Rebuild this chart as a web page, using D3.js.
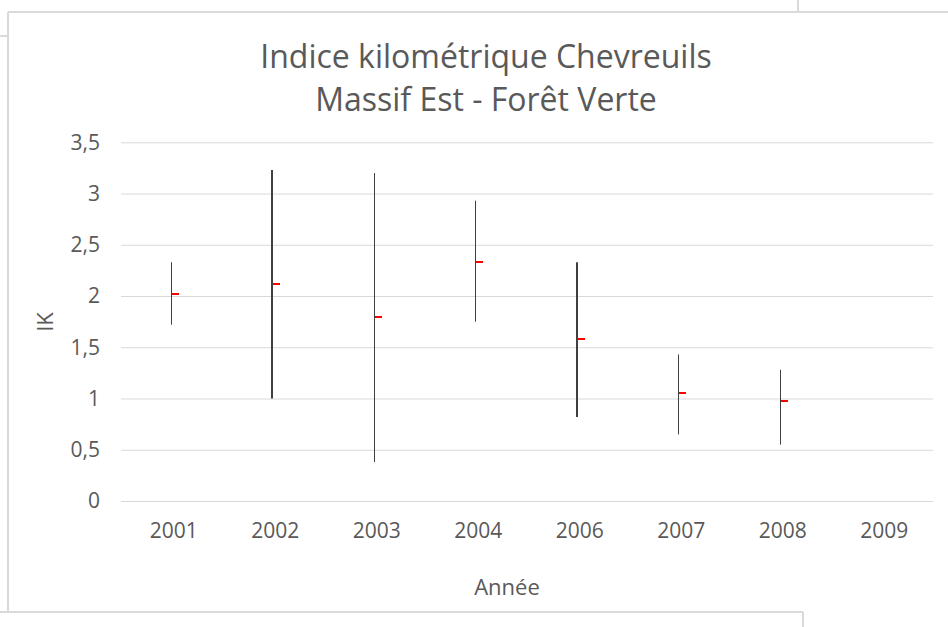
<!DOCTYPE html>
<html>
<head>
<meta charset="utf-8">
<script src="https://cdn.jsdelivr.net/npm/d3@7"></script>
<style>
  body { margin: 0; background: #fff; }
  svg { display: block; font-family: "Open Sans", sans-serif; }
</style>
</head>
<body>
<div id="chart"></div>
<script>
// IK per year: high / low of the range, and the mean
const years = ["2001", "2002", "2003", "2004", "2006", "2007", "2008", "2009"];
const highs = [2.33, 3.23, 3.20, 2.93, 2.33, 1.43, 1.28, null];
const lows = [1.72, 1.00, 0.38, 1.75, 0.82, 0.65, 0.55, null];
const means = [2.02, 2.12, 1.80, 2.33, 1.58, 1.05, 0.98, null];
const yTicks = [0, 0.5, 1, 1.5, 2, 2.5, 3, 3.5];

// stroke widths of the range lines, as they come out in the picture
const lineWidths = [1, 2, 1, 1, 2, 1, 1, 1];

const width = 948;
const height = 627;

const svg = d3.select("#chart").append("svg")
    .attr("width", width)
    .attr("height", height);

// frame lines left over from the spreadsheet
const frame = [
    [8, 12, 948, 12], [8, 12, 8, 612], [0, 36, 8, 36],
    [798, 0, 798, 12], [0, 612, 803, 612], [803, 612, 803, 627]
];
svg.selectAll("line.frame").data(frame).join("line")
    .attr("class", "frame")
    .attr("x1", d => d[0]).attr("y1", d => d[1])
    .attr("x2", d => d[2]).attr("y2", d => d[3])
    .attr("stroke", "#d9d9d9")
    .attr("stroke-width", 2);

const xScale = d3.scaleBand()
    .domain(years)
    .range([121, 933]);

const yScale = d3.scaleLinear()
    .domain([0, 3.5])
    .range([501, 142.3]);

const fmt = d => String(d).replace(".", ",");

// grid lines + y labels
const yAxis = d3.axisLeft(yScale).tickValues(yTicks).tickFormat(fmt).tickSize(-(933 - 121)).tickPadding(21);
const gy = svg.append("g").attr("transform", "translate(121,0)").call(yAxis);
gy.select(".domain").remove();
gy.selectAll(".tick line").attr("stroke", "#d9d9d9").attr("stroke-width", 1);
gy.selectAll(".tick text")
    .attr("fill", "#595959")
    .style("font-size", "21px")
    .style("font-family", "'Open Sans', sans-serif");

// x labels
const xAxis = d3.axisBottom(xScale).tickSize(0).tickPadding(22);
const gx = svg.append("g").attr("transform", "translate(2,501)").call(xAxis);
gx.select(".domain").remove();
gx.selectAll(".tick text")
    .attr("fill", "#595959")
    .style("font-size", "21px")
    .style("font-family", "'Open Sans', sans-serif");

// ranges
const idx = years.map((y, i) => i).filter(i => highs[i] != null);
const cx = i => Math.round(xScale(years[i]) + xScale.bandwidth() / 2) - 1 + (lineWidths[i] === 1 ? 0.5 : 0);

svg.selectAll("line.range").data(idx).join("line")
    .attr("class", "range")
    .attr("x1", cx)
    .attr("x2", cx)
    .attr("y1", i => yScale(highs[i]))
    .attr("y2", i => yScale(lows[i]))
    .attr("stroke", "#404040")
    .attr("stroke-width", i => lineWidths[i]);

svg.selectAll("rect.mean").data(idx).join("rect")
    .attr("class", "mean")
    .attr("x", i => Math.round(xScale(years[i]) + xScale.bandwidth() / 2))
    .attr("y", i => Math.round(yScale(means[i]) - 1))
    .attr("width", 7)
    .attr("height", 2)
    .attr("fill", "#ff0000");

// titles
svg.append("text")
    .attr("x", 486).attr("y", 68)
    .attr("text-anchor", "middle")
    .attr("fill", "#595959")
    .style("font-size", "32px")
    .text("Indice kilométrique Chevreuils");

svg.append("text")
    .attr("x", 486).attr("y", 111)
    .attr("text-anchor", "middle")
    .attr("fill", "#595959")
    .style("font-size", "32px")
    .text("Massif Est - Forêt Verte");

svg.append("text")
    .attr("x", 507).attr("y", 595)
    .attr("text-anchor", "middle")
    .attr("fill", "#595959")
    .style("font-size", "22px")
    .text("Année");

svg.append("text")
    .attr("transform", "translate(53,322) rotate(-90)")
    .attr("text-anchor", "middle")
    .attr("fill", "#595959")
    .style("font-size", "22px")
    .text("IK");
</script>
</body>
</html>
